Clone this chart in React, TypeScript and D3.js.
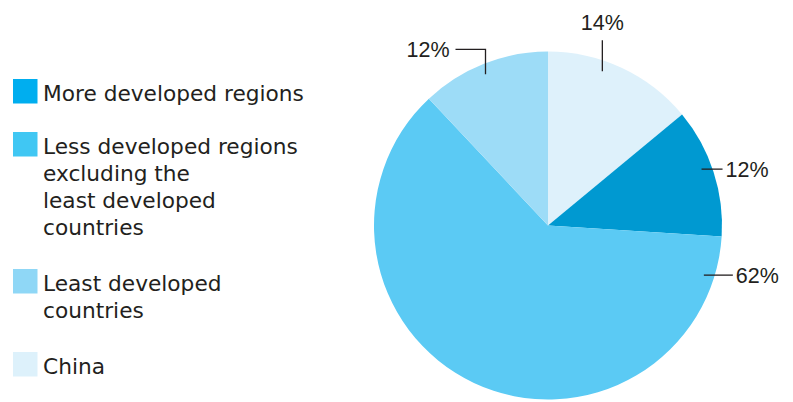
import React from "react";
import * as d3 from "d3";

const categories = [
  "More developed regions",
  "Less developed regions excluding the least developed countries",
  "Least developed countries",
  "China",
];
const legendLines = [
  ["More developed regions"],
  ["Less developed regions", "excluding the", "least developed", "countries"],
  ["Least developed", "countries"],
  ["China"],
];
const values = [12, 62, 12, 14];
const valueLabels = ["12%", "62%", "12%", "14%"];
const pieOrder = [3, 0, 1, 2];
const sliceColors = ["#0099d1", "#5bcaf4", "#9ddcf7", "#def1fb"];
const legendColors = ["#00aeef", "#40c7f3", "#8fd7f6", "#ddf1fb"];

const W = 793;
const H = 402;
const cx = 548;
const cy = 225.5;
const R = 174;
const textColor = "#231f20";
const font = "'DejaVu Sans', 'Open Sans', sans-serif";
const pctFont = "'Liberation Sans', Arial, sans-serif";

// leader label settings per category: fraction of slice angle, leader style
const leaderFrac = [0.45, 0.063, 0.48, 0.385];
const leaderKind = ["right", "right", "upleft", "up"];
const leaderLen = [21, 29, 25, 31];

export default function App() {
  const pie = d3.pie<number>().sort(null).value((i) => values[i]);
  const arcs = pie(pieOrder);
  const arcGen = d3.arc<d3.PieArcDatum<number>>().innerRadius(0).outerRadius(R);

  const legendY = [79, 132, 269, 352];
  const lineH = 27;
  const pctSize = 21.5;

  return (
    <svg
      width={W}
      height={H}
      style={{ position: "absolute", left: 0, top: 0, background: "#fff" }}
      fontFamily={font}
    >
      <g transform={`translate(${cx},${cy})`}>
        {arcs.map((a) => (
          <path key={a.data} d={arcGen(a) || ""} fill={sliceColors[a.data]} />
        ))}
        {arcs.map((a) => {
          const i = a.data;
          const ang = a.startAngle + (a.endAngle - a.startAngle) * leaderFrac[i];
          const rr = R * 0.94;
          const x0 = Math.sin(ang) * rr;
          const y0 = -Math.cos(ang) * rr;
          const kind = leaderKind[i];
          const L = leaderLen[i];
          if (kind === "up") {
            return (
              <g key={"l" + i}>
                <line x1={x0} y1={y0} x2={x0} y2={y0 - L} stroke={textColor} strokeWidth={1.3} />
                <text x={x0} y={y0 - L - 10} textAnchor="middle" fontSize={pctSize} fontFamily={pctFont} fill={textColor}>
                  {valueLabels[i]}
                </text>
              </g>
            );
          }
          if (kind === "upleft") {
            return (
              <g key={"l" + i}>
                <polyline
                  points={`${x0},${y0} ${x0},${y0 - L} ${x0 - 30},${y0 - L}`}
                  fill="none"
                  stroke={textColor}
                  strokeWidth={1.3}
                />
                <text x={x0 - 36} y={y0 - L + 7.5} textAnchor="end" fontSize={pctSize} fontFamily={pctFont} fill={textColor}>
                  {valueLabels[i]}
                </text>
              </g>
            );
          }
          return (
            <g key={"l" + i}>
              <line x1={x0} y1={y0} x2={x0 + L} y2={y0} stroke={textColor} strokeWidth={1.3} />
              <text x={x0 + L + 3} y={y0 + 8} textAnchor="start" fontSize={pctSize} fontFamily={pctFont} fill={textColor}>
                {valueLabels[i]}
              </text>
            </g>
          );
        })}
      </g>
      {categories.map((c, i) => (
        <g key={c}>
          <rect x={13} y={legendY[i]} width={24.5} height={24.5} fill={legendColors[i]} />
          {legendLines[i].map((t, j) => (
            <text key={j} x={43} y={legendY[i] + 21.5 + j * lineH} fontSize={21.7} fill={textColor}>
              {t}
            </text>
          ))}
        </g>
      ))}
    </svg>
  );
}
